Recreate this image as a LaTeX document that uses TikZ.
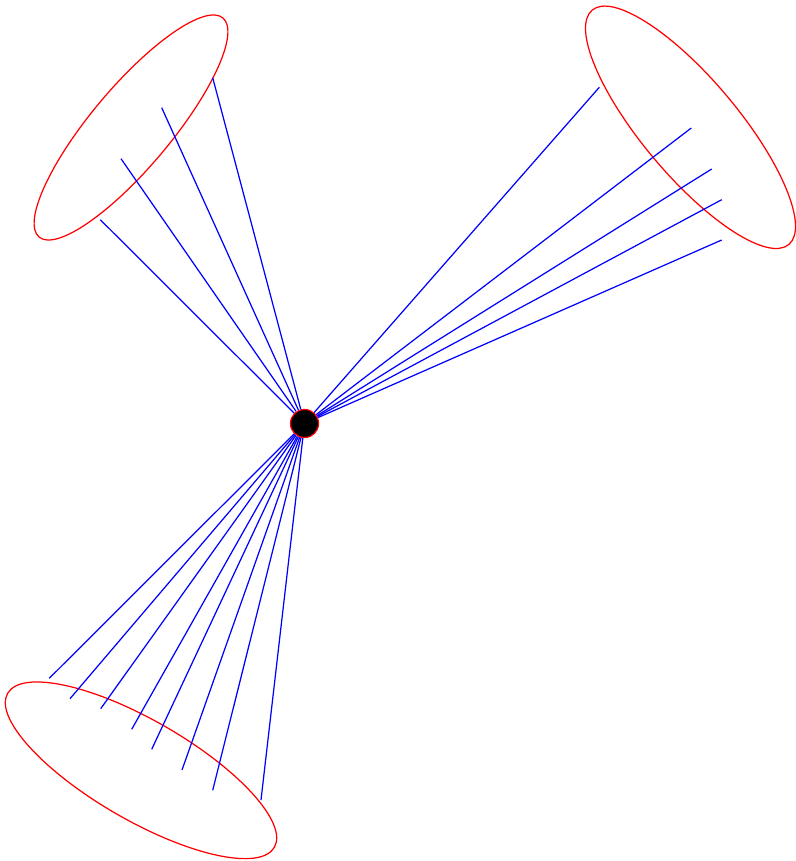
\documentclass[tikz,border=0pt]{standalone}
\usepackage{tikz}
\usetikzlibrary{positioning}

\tikzset{
  leg/.style={blue, line width=0.7pt},
  cone/.style={red, line width=0.7pt},
  vertex/.style={circle, draw=red, fill=black, line width=0.7pt, inner sep=0pt, minimum size=16pt}
}

\begin{document}
\begin{tikzpicture}[x=0.02cm,y=-0.02cm]
\useasboundingbox (0,0) rectangle (795,861);
% jet cones
\draw[cone, rotate around={50:(131,127.5)}] (131,127.5) ellipse [x radius=2.86cm, y radius=0.80cm];
\draw[cone, rotate around={-50:(690.5,127.3)}] (690.5,127.3) ellipse [x radius=3.06cm, y radius=0.96cm];
\draw[cone, rotate around={-30:(141,770.3)}] (141,770.3) ellipse [x radius=3.08cm, y radius=1.0cm];

\node[vertex] (vtx) at (304.5,423.5) {};

% particle ends
\foreach \n/\x/\y in {a1/212.7/77.7, a2/161.7/107.7, a3/121/158.7, a4/100.3/219.7,
                      b1/599.3/87.3, b2/691.3/128, b3/711.7/169, b4/721.7/199.7, b5/721.7/240,
                      c1/49.3/678.3, c2/70/698.7, c3/100.7/708.7, c4/131.7/729.3,
                      c5/151.7/749.3, c6/182/770, c7/212.7/790.3, c8/261/800}
  \coordinate (\n) at (\x,\y);

\foreach \n in {a1,a2,a3,a4,b1,b2,b3,b4,b5,c1,c2,c3,c4,c5,c6,c7,c8}
  \draw[leg] (vtx) -- (\n);
\end{tikzpicture}
\end{document}
